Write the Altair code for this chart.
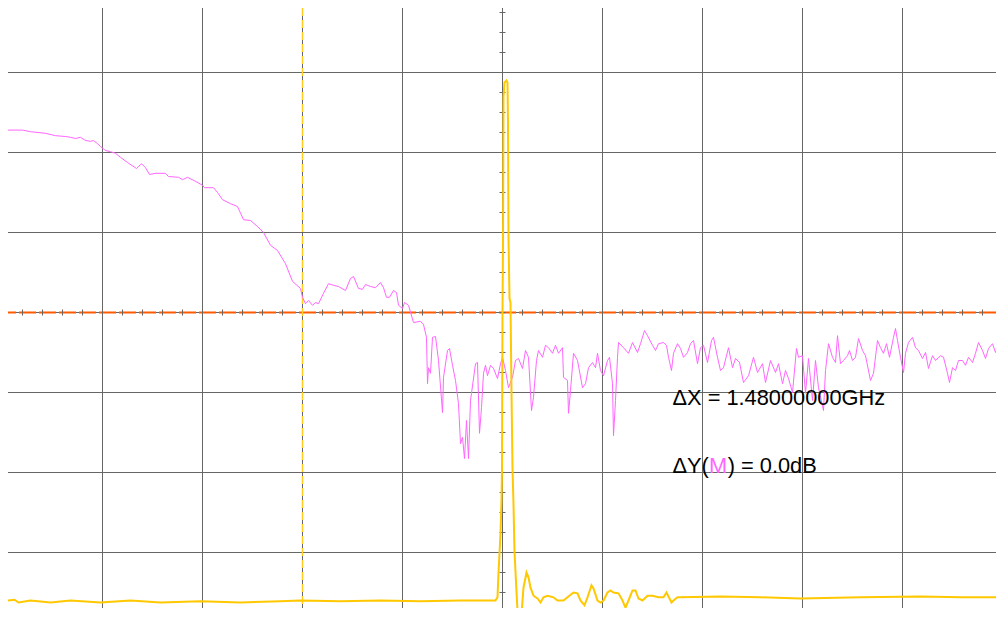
import altair as alt
import pandas as pd

# ---- magenta trace (frequency in MHz, level in dB) ----
MAG_F = [0, 10, 20, 100, 140, 215, 265, 315, 340, 365, 390, 415, 440, 455, 475, 490, 515, 540, 565, 590,
         625, 670, 695, 715, 735, 765, 815, 830, 880, 900, 925, 965, 1000, 1010, 1055, 1075, 1100, 1140, 1175, 1205,
         1240, 1275, 1305, 1340, 1375, 1415, 1450, 1490, 1500, 1515, 1530, 1550, 1565, 1580, 1605, 1630, 1655, 1680, 1715, 1740,
         1755, 1780, 1800, 1815, 1840, 1865, 1890, 1905, 1920, 1935, 1955, 1970, 1980, 2000, 2010, 2030, 2055, 2090, 2105, 2120,
         2125, 2130, 2140, 2150, 2165, 2180, 2200, 2205, 2225, 2235, 2250, 2265, 2280, 2290, 2300, 2310, 2320, 2330, 2340, 2345,
         2365, 2375, 2385, 2395, 2405, 2415, 2425, 2440, 2455, 2475, 2490, 2500, 2515, 2530, 2550, 2565, 2580, 2600, 2615, 2630,
         2645, 2655, 2670, 2680, 2700, 2715, 2730, 2750, 2765, 2780, 2800, 2805, 2825, 2830, 2840, 2855, 2875, 2900, 2915, 2930,
         2950, 2965, 2975, 2990, 3005, 3025, 3035, 3050, 3055, 3065, 3075, 3080, 3105, 3130, 3150, 3175, 3190, 3210, 3225, 3250,
         3265, 3280, 3305, 3320, 3330, 3345, 3355, 3375, 3390, 3405, 3425, 3440, 3455, 3475, 3490, 3505, 3525, 3545, 3555, 3575,
         3590, 3605, 3630, 3650, 3665, 3685, 3705, 3730, 3755, 3775, 3800, 3815, 3840, 3865, 3880, 3900, 3915, 3930, 3950, 3970,
         3980, 4000, 4015, 4030, 4050, 4065, 4080, 4105, 4115, 4130, 4150, 4165, 4175, 4190, 4205, 4225, 4235, 4250, 4265, 4280,
         4300, 4315, 4340, 4355, 4375, 4390, 4405, 4420, 4435, 4455, 4465, 4475, 4490, 4505, 4515, 4530, 4550, 4565, 4580, 4600,
         4615, 4630, 4650, 4665, 4690, 4705, 4725, 4735, 4750, 4765, 4780, 4800, 4815, 4830, 4850, 4865, 4880, 4900, 4915, 4930,
         4950, 4965, 4980, 5000]
MAG_DB = [20.0, 21.5, 22.8, 22.8, 22.6, 22.4, 22.1, 22.0, 21.9, 21.75, 21.9, 21.5, 21.4, 21.5, 21.1, 20.75, 20.25, 20.1, 19.9, 19.4,
          18.75, 18.0, 18.6, 18.1, 17.25, 17.4, 17.4, 17.0, 16.9, 16.6, 16.9, 16.4, 15.9, 15.6, 15.6, 15.0, 14.1, 13.6, 13.25, 11.6,
          11.5, 10.75, 10.0, 8.4, 7.75, 6.1, 3.9, 3.0, 1.9, 1.1, 1.5, 0.9, 1.25, 1.1, 2.4, 3.6, 3.4, 3.25, 2.75, 4.25,
          4.5, 3.0, 2.9, 3.5, 3.25, 3.1, 3.75, 3.1, 1.9, 1.9, 2.75, 2.5, 0.9, 0.5, 1.25, 0.9, -1.25, -1.1, -1.5, -3.1,
          -8.9, -6.9, -7.6, -3.1, -3.0, -6.0, -12.5, -8.1, -4.75, -4.5, -6.6, -8.5, -11.4, -16.4, -15.6, -18.25, -13.5, -18.25, -11.0, -10.1,
          -6.4, -6.25, -15.1, -11.9, -7.6, -6.6, -7.9, -6.6, -7.0, -8.25, -6.4, -5.6, -7.25, -9.4, -8.1, -6.0, -5.75, -7.0, -4.75, -5.6,
          -12.25, -10.6, -6.0, -4.75, -5.6, -4.1, -4.4, -5.1, -4.1, -5.1, -4.4, -8.1, -8.5, -12.6, -9.75, -5.1, -6.0, -9.4, -8.9, -6.9,
          -6.25, -6.9, -5.1, -7.25, -7.9, -6.0, -5.6, -8.9, -15.4, -11.0, -5.6, -3.75, -4.4, -5.1, -3.75, -5.0, -3.9, -2.25, -2.9, -4.1,
          -4.75, -3.9, -3.75, -4.1, -5.6, -7.25, -5.1, -3.9, -4.5, -5.6, -5.0, -3.9, -3.5, -6.4, -4.4, -4.1, -6.25, -3.5, -3.1, -5.6,
          -7.25, -6.9, -4.4, -6.9, -5.75, -6.25, -8.75, -7.9, -5.6, -7.5, -6.4, -8.75, -6.0, -7.5, -6.4, -8.9, -7.25, -8.25, -10.0, -4.5,
          -5.6, -5.4, -10.1, -5.75, -11.0, -6.0, -9.4, -12.25, -7.25, -3.9, -5.6, -6.25, -2.9, -6.4, -6.0, -5.4, -4.75, -6.0, -5.6, -3.25,
          -4.75, -5.4, -8.5, -7.6, -3.5, -4.4, -5.1, -3.9, -5.6, -3.1, -2.0, -3.5, -5.6, -7.5, -5.1, -3.75, -3.1, -4.4, -4.75, -5.75,
          -5.0, -7.0, -5.4, -6.0, -5.4, -5.6, -7.6, -8.75, -6.9, -7.25, -6.0, -6.0, -6.6, -5.6, -6.25, -5.1, -3.75, -4.75, -5.75, -4.5,
          -3.9, -5.0, -3.9, -3.9]

# ---- yellow trace ----
YEL_F = [0, 60, 80, 140, 240, 340, 490, 640, 790, 990, 1190, 1390, 1490, 1690, 1890, 2090, 2290, 2465,
         2475, 2480, 2490, 2495, 2497.5, 2500, 2502.5, 2505, 2510, 2520, 2525, 2527.5, 2530, 2535, 2540, 2545,
         2550, 2555, 2560, 2570, 2575, 2580, 2587.5, 2595, 2600, 2605, 2620, 2630, 2640, 2655, 2675, 2690,
         2705, 2725, 2755, 2775, 2805, 2825, 2855, 2875, 2890, 2910, 2925, 2945, 2955, 2975, 2990, 3005,
         3025, 3040, 3055, 3080, 3100, 3115, 3130, 3150, 3165, 3180, 3200, 3225, 3250, 3280, 3305, 3320,
         3345, 3355, 3375, 3390, 3590, 3790, 3990, 4290, 4590, 4790, 5000]
YEL_V = [-36.1, -35.9, -36.25, -36.0, -36.25, -36.0, -36.25, -36.0, -36.25, -36.1, -36.25, -36.1, -36.0, -36.1, -36.0, -36.1, -36.0, -36.0,
         -35.6, -32.6, -27.6, -23.5, -19.5, -0.1, 8.9, 27.0, 28.75, 29.0, 28.75, 23.4, 9.4, 1.75, 1.25, -10.0,
         -19.5, -24.0, -29.9, -34.9, -37.25, -38.9, -39.75, -37.9, -36.0, -34.4, -32.5, -33.1, -34.4, -35.4, -35.75, -36.25,
         -35.6, -35.4, -35.6, -36.0, -36.0, -35.6, -35.0, -35.1, -36.0, -36.6, -35.6, -34.1, -34.5, -36.0, -36.25, -36.0,
         -35.0, -34.75, -35.0, -35.1, -36.0, -36.9, -36.0, -34.75, -34.75, -35.75, -36.0, -35.4, -35.4, -35.6, -35.6, -35.0,
         -36.25, -36.0, -35.6, -35.6, -35.5, -35.6, -35.75, -35.6, -35.5, -35.6, -35.6]

GRID_X = [0, 500, 1000, 1500, 2000, 2500, 3000, 3500, 4000, 4500, 5000]
GRID_Y = [-40, -30, -20, -10, 0, 10, 20, 30, 40]
MINOR_X = list(range(0, 5001, 100))
MINOR_Y = [v / 2 for v in range(-80, 81, 5)]
MARKER_F = [20, 1500]
MARKER_COLOR = ["#FF6A10", "#FFCC22"]

TEXT_STR = ["\u0394X = 1.48000000GHz", "\u0394Y(", "M", ") = 0.0dB"]
TEXT_X = [3350, 3350, 3533, 3626]
TEXT_Y = [-11.6, -20.0, -20.0, -20.0]
TEXT_COLOR = ["#000000", "#000000", "#FF66FF", "#000000"]

X = alt.Scale(domain=[27.5, 4967.5], nice=False, zero=False)
Y = alt.Scale(domain=[-36.9375, 38.0625], nice=False, zero=False)

gx = alt.Chart(pd.DataFrame({"f": GRID_X})).mark_rule(color="#666666", strokeWidth=1, clip=True).encode(
    x=alt.X("f:Q", scale=X, axis=None))
gy = alt.Chart(pd.DataFrame({"v": GRID_Y})).mark_rule(color="#666666", strokeWidth=1, clip=True).encode(
    y=alt.Y("v:Q", scale=Y, axis=None))

center_h = alt.Chart(pd.DataFrame({"v": [0]})).mark_rule(
    color="#FF5A00", strokeWidth=2, strokeDash=[17, 3]).encode(y=alt.Y("v:Q", scale=Y, axis=None))

ticks_h = alt.Chart(pd.DataFrame({"f": MINOR_X, "v": [0] * len(MINOR_X)})).mark_tick(
    orient="vertical", size=6, thickness=1, color="#666666", opacity=1, clip=True).encode(
    x=alt.X("f:Q", scale=X, axis=None), y=alt.Y("v:Q", scale=Y, axis=None))
ticks_v = alt.Chart(pd.DataFrame({"f": [2500] * len(MINOR_Y), "v": MINOR_Y})).mark_tick(
    orient="horizontal", size=6, thickness=1, color="#666666", opacity=1, clip=True).encode(
    x=alt.X("f:Q", scale=X, axis=None), y=alt.Y("v:Q", scale=Y, axis=None))

markers = alt.Chart(pd.DataFrame({"f": MARKER_F, "c": MARKER_COLOR})).mark_rule(
    strokeWidth=1.5, strokeDash=[8, 4], clip=True).encode(
    x=alt.X("f:Q", scale=X, axis=None), color=alt.Color("c:N", scale=None))

mag = alt.Chart(pd.DataFrame({"f": MAG_F, "db": MAG_DB})).mark_line(
    color="#FF66FF", strokeWidth=1, clip=True).encode(
    x=alt.X("f:Q", scale=X, axis=None), y=alt.Y("db:Q", scale=Y, axis=None))

yel = alt.Chart(pd.DataFrame({"f": YEL_F, "v": YEL_V})).mark_line(
    color="#FFC800", strokeWidth=2, clip=True).encode(
    x=alt.X("f:Q", scale=X, axis=None), y=alt.Y("v:Q", scale=Y, axis=None))

txt = alt.Chart(pd.DataFrame({"t": TEXT_STR, "f": TEXT_X, "v": TEXT_Y, "c": TEXT_COLOR})).mark_text(
    align="left", baseline="alphabetic", font="Liberation Sans", fontSize=21.8).encode(
    x=alt.X("f:Q", scale=X, axis=None), y=alt.Y("v:Q", scale=Y, axis=None),
    text="t:N", color=alt.Color("c:N", scale=None))

chart = alt.layer(gx, gy, center_h, ticks_h, ticks_v, markers, mag, yel, txt).properties(
    width=988, height=600, padding=0, autosize="none", background="white"
).configure_view(strokeWidth=0)

chart.save("out.html", embed_options={"renderer": "svg", "actions": False})
